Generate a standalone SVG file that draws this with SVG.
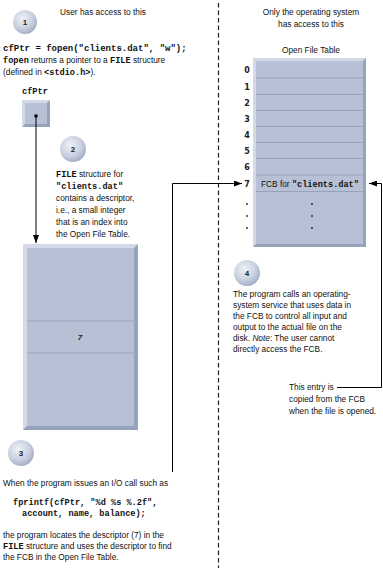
<svg xmlns="http://www.w3.org/2000/svg" width="383" height="574" viewBox="0 0 383 574">
<defs>
<radialGradient id="cg" cx="0.4" cy="0.35" r="0.7">
<stop offset="0" stop-color="#eef1f7"/>
<stop offset="0.6" stop-color="#c9d0e0"/>
<stop offset="1" stop-color="#9fa9c2"/>
</radialGradient>
<marker id="ah" viewBox="0 0 8 6" refX="8" refY="3" markerWidth="8" markerHeight="6" markerUnits="userSpaceOnUse" orient="auto">
<path d="M0,0 L8,3 L0,6 z" fill="#000"/>
</marker>
<style>
.t{font-family:"Liberation Sans",Arial,sans-serif;font-size:8.3px;fill:#111}
.m{font-family:"Liberation Mono","DejaVu Sans Mono",monospace;font-size:8.6px;font-weight:bold;fill:#111}
.n{font-family:"Liberation Sans",Arial,sans-serif;font-size:8px;font-weight:bold;fill:#222;text-anchor:middle}
.lb{font-family:"DejaVu Sans",sans-serif;font-size:8px;font-weight:bold;fill:#222;text-anchor:middle}
.fill{fill:#b7c0d5}
.lite{fill:#d3d9e6}
.dark{fill:#97a2bc}
.div{stroke:#97a2bc;stroke-width:1}
.c{fill:url(#cg)}
.con{fill:none;stroke:#000;stroke-width:1}
</style>
</defs>
<rect width="383" height="574" fill="#fff"/>

<line x1="218.5" y1="3" x2="218.5" y2="568" stroke="#222" stroke-width="1.2" stroke-dasharray="4.5,3"/>

<g id="hdr-left"><text class="t" x="103" y="15" text-anchor="middle">User has access to this</text></g>
<g id="hdr-right">
<text class="t" x="311" y="15" text-anchor="middle">Only the operating system</text>
<text class="t" x="311" y="27" text-anchor="middle">has access to this</text>
</g>

<g id="step1">
<circle class="c" cx="25" cy="22" r="12"/>
<text class="n" x="25" y="25">1</text>
<text class="m" x="3" y="51" style="font-size:9px">cfPtr = fopen("clients.dat", "w");</text>
<text class="t" x="3" y="63"><tspan class="m">fopen</tspan> returns a pointer to a <tspan class="m">FILE</tspan> structure</text>
<text class="t" x="3" y="75">(defined in <tspan class="m">&lt;stdio.h&gt;</tspan>).</text>
</g>

<g id="cfPtr">
<text class="m" x="22" y="94">cfPtr</text>
<rect class="dark" x="22" y="100" width="28" height="27"/>
<polygon class="lite" points="22,100 50,100 47,103 25,103 25,124 22,127"/>
<rect class="fill" x="25" y="103" width="22" height="21"/>
<circle cx="36" cy="116" r="1.8" fill="#000"/>
</g>

<g id="step2">
<circle class="c" cx="73" cy="149" r="13"/>
<text class="n" x="73" y="152">2</text>
<text class="t" x="56" y="177"><tspan class="m">FILE</tspan> structure for</text>
<text class="m" x="56" y="189">"clients.dat"</text>
<text class="t" x="56" y="201">contains a descriptor,</text>
<text class="t" x="56" y="213">i.e., a small integer</text>
<text class="t" x="56" y="225">that is an index into</text>
<text class="t" x="56" y="237">the Open File Table.</text>
</g>

<g id="filestruct">
<rect class="dark" x="23" y="244" width="115" height="186"/>
<polygon class="lite" points="23,244 138,244 134,248 27,248 27,426 23,430"/>
<rect class="fill" x="27" y="248" width="107" height="178"/>
<line class="div" x1="27" y1="321" x2="134" y2="321"/>
<line class="div" x1="27" y1="353" x2="134" y2="353"/>
<text class="n" x="80" y="340" font-style="italic">7</text>
</g>

<g id="step3">
<circle class="c" cx="21" cy="453" r="13"/>
<text class="n" x="21" y="456">3</text>
<text class="t" x="3" y="486">When the program issues an I/O call such as</text>
<text class="m" x="13" y="505">fprintf(cfPtr, "%d %s %.2f",</text>
<text class="m" x="22" y="516">account, name, balance);</text>
<text class="t" x="3" y="538">the program locates the descriptor (7) in the</text>
<text class="t" x="3" y="549"><tspan class="m">FILE</tspan> structure and uses the descriptor to find</text>
<text class="t" x="3" y="560">the FCB in the Open File Table.</text>
</g>

<g id="oft">
<text class="t" x="311" y="53" text-anchor="middle">Open File Table</text>
<rect class="dark" x="253" y="58" width="113" height="189"/>
<polygon class="lite" points="253,58 366,58 363,61 256,61 256,244 253,247"/>
<rect class="fill" x="256" y="61" width="107" height="183"/>
<g class="div">
<line x1="256" y1="78" x2="363" y2="78"/>
<line x1="256" y1="94.5" x2="363" y2="94.5"/>
<line x1="256" y1="110.5" x2="363" y2="110.5"/>
<line x1="256" y1="126.5" x2="363" y2="126.5"/>
<line x1="256" y1="142.5" x2="363" y2="142.5"/>
<line x1="256" y1="158.5" x2="363" y2="158.5"/>
<line x1="256" y1="175" x2="363" y2="175"/>
<line x1="256" y1="191.5" x2="363" y2="191.5"/>
</g>
<text class="lb" x="247" y="73">0</text>
<text class="lb" x="247" y="89.5">1</text>
<text class="lb" x="247" y="105.5">2</text>
<text class="lb" x="247" y="121.5">3</text>
<text class="lb" x="247" y="137.5">4</text>
<text class="lb" x="247" y="153.5">5</text>
<text class="lb" x="247" y="170">6</text>
<text class="lb" x="247" y="186.5">7</text>
<text class="t" x="261" y="186.5">FCB for <tspan class="m">"clients.dat"</tspan></text>
<g fill="#222">
<circle cx="247" cy="204" r="0.9"/><circle cx="247" cy="216" r="0.9"/><circle cx="247" cy="228" r="0.9"/>
<circle cx="312" cy="204" r="0.9"/><circle cx="312" cy="216" r="0.9"/><circle cx="312" cy="228" r="0.9"/>
</g>
</g>

<g id="step4">
<circle class="c" cx="247" cy="273" r="13"/>
<text class="n" x="247" y="276">4</text>
<text class="t" x="233" y="297">The program calls an operating-</text>
<text class="t" x="233" y="308">system service that uses data in</text>
<text class="t" x="233" y="319">the FCB to control all input and</text>
<text class="t" x="233" y="330">output to the actual file on the</text>
<text class="t" x="233" y="341">disk. <tspan font-style="italic">Note</tspan>: The user cannot</text>
<text class="t" x="233" y="352">directly access the FCB.</text>
</g>

<g id="note">
<text class="t" x="289" y="390">This entry is</text>
<text class="t" x="289" y="402">copied from the FCB</text>
<text class="t" x="289" y="414">when the file is opened.</text>
</g>

<g id="connectors">
<path class="con" d="M36,116 V243" marker-end="url(#ah)"/>
<path class="con" d="M172.5,472 V183.5 H242" marker-end="url(#ah)"/>
<path class="con" d="M337,387.5 H381.5 V183.5 H369" marker-end="url(#ah)"/>
</g>
</svg>
